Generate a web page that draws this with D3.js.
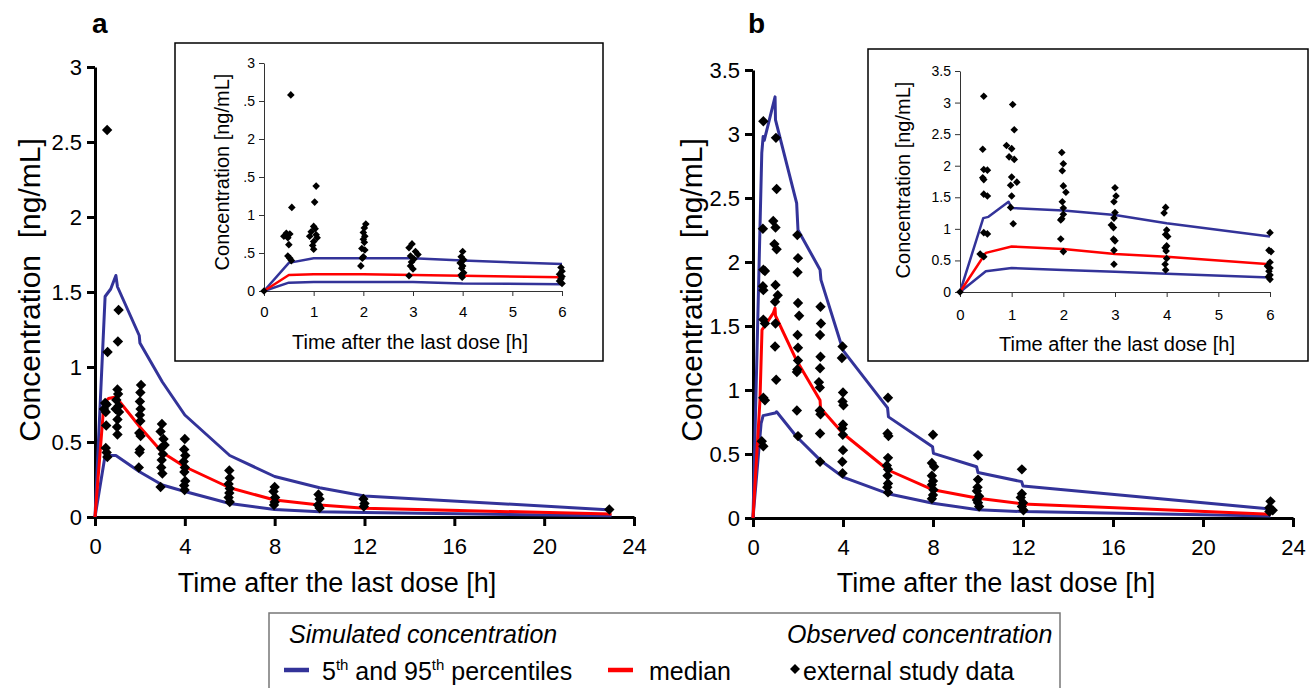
<!DOCTYPE html>
<html>
<head>
<meta charset="utf-8">
<script src="https://cdn.jsdelivr.net/npm/d3@7"></script>
<style>
body { margin: 0; background: #fff; }
svg { display: block; font-family: "Liberation Sans", Arial, sans-serif; }
</style>
</head>
<body>
<svg id="canvas"></svg>
<script>
// observed concentrations [time h, ng/mL]
const obsA = [
    [0.54, 2.58], [0.56, 1.10], [0.45, 0.76], [0.52, 0.75], [0.40, 0.72], [0.48, 0.70], [0.50, 0.61], [0.48, 0.46], [0.52, 0.43], [0.55, 0.40],
    [1.05, 1.38], [1.02, 1.17], [1.00, 0.85], [1.03, 0.82], [0.95, 0.78], [1.05, 0.74], [0.92, 0.72], [1.07, 0.70], [1.00, 0.65], [0.98, 0.60], [1.00, 0.55],
    [2.05, 0.88], [2.02, 0.83], [2.00, 0.77], [2.03, 0.72], [2.00, 0.68], [2.02, 0.64], [1.97, 0.56], [2.03, 0.54], [2.00, 0.45], [1.98, 0.43], [1.95, 0.33],
    [2.98, 0.62], [2.92, 0.57], [3.05, 0.52], [3.10, 0.48], [2.95, 0.46], [3.02, 0.42], [2.97, 0.38], [2.95, 0.33], [3.00, 0.29], [2.92, 0.20],
    [4.00, 0.52], [3.97, 0.45], [4.02, 0.41], [3.95, 0.37], [4.00, 0.33], [3.98, 0.30], [4.02, 0.24], [3.97, 0.21], [3.99, 0.18],
    [5.98, 0.31], [6.00, 0.26], [5.95, 0.22], [6.00, 0.19], [5.98, 0.16], [5.95, 0.13], [6.00, 0.10],
    [8.00, 0.20], [7.95, 0.17], [8.02, 0.13], [8.00, 0.10], [7.97, 0.08],
    [9.95, 0.15], [10.0, 0.12], [9.93, 0.08], [10.0, 0.06],
    [11.95, 0.12], [12.0, 0.09], [11.97, 0.07],
    [22.9, 0.05]
];
const obsB = [
    [0.46, 3.10], [0.44, 2.26], [0.46, 1.94], [0.53, 1.93], [0.44, 1.81], [0.46, 1.78], [0.46, 1.55], [0.53, 1.52], [0.46, 0.94], [0.53, 0.92], [0.39, 0.60], [0.46, 0.56],
    [1.02, 2.97], [1.05, 2.57], [0.90, 2.32], [1.00, 2.27], [0.95, 2.14], [1.05, 2.10], [1.00, 1.82], [1.10, 1.74], [0.98, 1.69], [1.00, 1.52], [0.98, 1.34], [1.03, 1.08],
    [1.97, 2.21], [2.00, 2.03], [1.98, 1.92], [2.00, 1.68], [2.05, 1.58], [1.98, 1.43], [2.00, 1.33], [2.00, 1.23], [1.97, 1.16], [1.95, 1.14], [1.95, 0.84], [2.00, 0.64],
    [3.00, 1.65], [3.02, 1.52], [2.98, 1.43], [3.00, 1.26], [2.98, 1.17], [2.93, 1.06], [2.97, 1.02], [2.97, 0.84], [3.00, 0.81], [2.98, 0.66], [2.98, 0.44],
    [3.98, 1.34], [3.95, 1.25], [4.00, 0.98], [3.98, 0.91], [4.02, 0.88], [4.00, 0.73], [3.97, 0.70], [3.99, 0.65], [4.00, 0.53], [3.97, 0.44], [3.98, 0.35],
    [6.00, 0.94], [5.98, 0.66], [6.02, 0.64], [6.00, 0.47], [5.95, 0.41], [6.00, 0.38], [5.98, 0.33], [6.00, 0.27], [5.97, 0.24], [6.00, 0.20],
    [8.00, 0.65], [7.95, 0.43], [8.05, 0.40], [7.95, 0.33], [8.00, 0.29], [7.95, 0.26], [8.02, 0.22], [8.00, 0.18], [7.95, 0.15],
    [10.0, 0.49], [10.0, 0.30], [9.98, 0.24], [9.95, 0.21], [10.05, 0.17], [9.95, 0.14], [10.0, 0.12], [10.05, 0.09],
    [11.95, 0.38], [11.95, 0.19], [11.9, 0.16], [12.0, 0.12], [11.95, 0.09], [12.02, 0.06],
    [23.0, 0.13], [22.95, 0.08], [23.1, 0.06], [22.95, 0.05]
];
const insetStart = [[0, 0]];

// simulated percentiles, main panels
const upperA = [[0, 0], [0.45, 1.47], [0.7, 1.52], [0.93, 1.61], [1.0, 1.535], [1.97, 1.21], [2.0, 1.16], [3, 0.90], [4, 0.68], [6, 0.41], [8, 0.27], [10, 0.195], [12, 0.14], [23, 0.047]];
const medianA = [[0, 0], [0.4, 0.76], [0.6, 0.79], [0.93, 0.80], [2, 0.60], [3, 0.43], [4, 0.335], [6, 0.195], [8, 0.113], [10, 0.08], [12, 0.058], [23, 0.02]];
const lowerA = [[0, 0], [0.45, 0.41], [0.93, 0.41], [2, 0.30], [3, 0.213], [4, 0.17], [6, 0.09], [8, 0.05], [10, 0.035], [12, 0.03], [23, 0.008]];
const upperB = [[0, 0], [0.39, 2.85], [0.45, 2.98], [0.5, 2.95], [0.98, 3.29], [1.0, 3.11], [1.94, 2.46], [2.0, 2.25], [2.98, 1.94], [3.02, 1.86], [4, 1.31], [5.98, 0.86], [6.02, 0.79], [7.98, 0.557], [8.02, 0.505], [9.94, 0.40], [10.0, 0.355], [11.94, 0.284], [12.0, 0.25], [23, 0.07]];
const medianB = [[0, 0], [0.31, 0.92], [0.4, 1.47], [0.9, 1.6], [0.98, 1.64], [1.0, 1.58], [1.94, 1.23], [2.98, 0.92], [3.0, 0.86], [4, 0.66], [6, 0.375], [8, 0.22], [10, 0.154], [12, 0.11], [23, 0.03]];
const lowerB = [[0, 0], [0.36, 0.74], [0.45, 0.80], [0.98, 0.82], [1.05, 0.83], [1.94, 0.635], [3, 0.45], [4, 0.32], [6, 0.19], [8, 0.115], [10, 0.065], [12, 0.05], [23, 0.015]];

// simulated percentiles, insets
const upperIA = [[0, 0], [0.5, 0.37], [1, 0.43], [2, 0.43], [3, 0.43], [4, 0.40], [6, 0.355]];
const medianIA = [[0, 0], [0.5, 0.21], [1, 0.22], [2, 0.22], [3, 0.21], [4, 0.20], [6, 0.18]];
const lowerIA = [[0, 0], [0.5, 0.11], [1, 0.12], [2, 0.12], [3, 0.12], [4, 0.10], [6, 0.09]];
const upperIB = [[0, 0], [0.45, 1.17], [0.55, 1.19], [0.94, 1.43], [1.0, 1.33], [2, 1.29], [3, 1.22], [4, 1.09], [6, 0.88]];
const medianIB = [[0, 0], [0.5, 0.62], [1, 0.72], [2, 0.68], [3, 0.60], [4, 0.56], [6, 0.44]];
const lowerIB = [[0, 0], [0.5, 0.33], [1, 0.38], [2, 0.35], [3, 0.32], [4, 0.29], [6, 0.23]];

// ticks
const xTicksMain = [0, 4, 8, 12, 16, 20, 24];
const yTicksA = [0, 0.5, 1, 1.5, 2, 2.5, 3];
const yLabelsA = ["0", "0.5", "1", "1.5", "2", "2.5", "3"];
const yTicksB = [0, 0.5, 1, 1.5, 2, 2.5, 3, 3.5];
const yLabelsB = ["0", "0.5", "1", "1.5", "2", "2.5", "3", "3.5"];
const xTicksInset = [0, 1, 2, 3, 4, 5, 6];
const yLabelsIA = ["0", ".5", "1", ".5", "2", ".5", "3"];

const width = 1309,
    height = 688;
const BLUE = "#333399",
    RED = "#ff0000";

const svg = d3.select("#canvas")
    .attr("width", width)
    .attr("height", height);

const diamond = d3.symbol().type(d3.symbolSquare);

function drawSeries(g, sx, sy, lines, points, lw, r) {
    const line = d3.line().x(d => sx(d[0])).y(d => sy(d[1]));
    lines.forEach(([data, color]) => {
        g.append("path")
            .attr("d", line(data))
            .attr("fill", "none")
            .attr("stroke", color)
            .attr("stroke-width", lw)
            .attr("stroke-linejoin", "round");
    });
    g.selectAll(null)
        .data(points)
        .join("path")
        .attr("d", diamond.size(2 * r * r))
        .attr("transform", d => `translate(${sx(d[0])},${sy(d[1])}) rotate(45)`)
        .attr("fill", "#000");
}

function renderMain(p) {
    const root = svg.append("g");
    const sx = d3.scaleLinear().domain([0, 24]).range(p.xRange);
    const sy = d3.scaleLinear().domain([0, p.yMax]).range(p.yRange);

    const ax = root.append("g")
        .attr("transform", `translate(0,${p.yRange[0]})`)
        .call(d3.axisBottom(sx).tickValues(xTicksMain).tickSize(9).tickSizeOuter(0).tickPadding(12));
    const ay = root.append("g")
        .attr("transform", `translate(${p.xRange[0]},0)`)
        .call(d3.axisLeft(sy).tickValues(p.yTicks).tickFormat((d, i) => p.yLabels[i]).tickSize(8).tickSizeOuter(0).tickPadding(5));
    [ax, ay].forEach(a => {
        a.selectAll("path, line").attr("stroke", "#000").attr("stroke-width", 3);
        a.selectAll("text").attr("font-size", 22).attr("fill", "#000").attr("font-family", "Liberation Sans, Arial, sans-serif");
    });

    drawSeries(root.append("g"), sx, sy,
        [[p.upper, BLUE], [p.lower, BLUE], [p.median, RED]],
        p.obs, 3, 5.2);

    root.append("text")
        .attr("x", p.xLabelX).attr("y", 592)
        .attr("text-anchor", "middle")
        .attr("font-size", 27)
        .text("Time after the last dose [h]");
    root.append("text")
        .attr("transform", `translate(${p.yLabelX},290) rotate(-90)`)
        .attr("text-anchor", "middle")
        .attr("dy", "0.35em")
        .attr("font-size", 30)
        .style("white-space", "pre")
        .text("Concentration  [ng/mL]");
    root.append("text")
        .attr("x", p.letterX).attr("y", 33)
        .attr("font-size", 28)
        .attr("font-weight", "bold")
        .text(p.letter);
}

function renderInset(p) {
    const root = svg.append("g");
    root.append("rect")
        .attr("x", p.box[0]).attr("y", p.box[1])
        .attr("width", p.box[2]).attr("height", p.box[3])
        .attr("fill", "#fff")
        .attr("stroke", "#000")
        .attr("stroke-width", 1.5);

    const sx = d3.scaleLinear().domain([0, 6]).range(p.xRange);
    const sy = d3.scaleLinear().domain([0, p.yMax]).range(p.yRange);

    const ax = root.append("g")
        .attr("transform", `translate(0,${p.yRange[0]})`)
        .call(d3.axisBottom(sx).tickValues(xTicksInset).tickFormat(d3.format("d")).tickSize(5).tickSizeOuter(0).tickPadding(p.xPad));
    const ay = root.append("g")
        .attr("transform", `translate(${p.xRange[0]},0)`)
        .call(d3.axisLeft(sy).tickValues(p.yTicks).tickFormat((d, i) => p.yLabels[i]).tickSize(5).tickSizeOuter(0).tickPadding(4));
    [ax, ay].forEach(a => {
        a.selectAll("path, line").attr("stroke", "#333").attr("stroke-width", 1);
        a.selectAll("text").attr("fill", "#000").attr("font-family", "Liberation Sans, Arial, sans-serif");
    });
    ax.selectAll("text").attr("font-size", 15);
    ay.selectAll("text").attr("font-size", 14);

    drawSeries(root.append("g"), sx, sy,
        [[p.upper, BLUE], [p.lower, BLUE], [p.median, RED]],
        insetStart.concat(p.obs.filter(d => d[0] <= 6.2)), 2.5, 3.8);

    root.append("text")
        .attr("x", p.xLabelX).attr("y", p.xLabelY)
        .attr("text-anchor", "middle")
        .attr("font-size", 20)
        .text("Time after the last dose [h]");
    root.append("text")
        .attr("transform", `translate(${p.yLabel[0]},${p.yLabel[1]}) rotate(-90)`)
        .attr("text-anchor", "middle")
        .attr("dy", "0.35em")
        .attr("font-size", 20)
        .text("Concentration [ng/mL]");
}

renderMain({
    letter: "a", letterX: 92, xRange: [95, 634], yRange: [517, 67], yMax: 3,
    yTicks: yTicksA, yLabels: yLabelsA, obs: obsA, upper: upperA, median: medianA, lower: lowerA,
    xLabelX: 337, yLabelX: 29
});
renderMain({
    letter: "b", letterX: 748, xRange: [753, 1293], yRange: [518, 70], yMax: 3.5,
    yTicks: yTicksB, yLabels: yLabelsB, obs: obsB, upper: upperB, median: medianB, lower: lowerB,
    xLabelX: 996, yLabelX: 691
});
renderInset({
    box: [175, 43, 428, 318], xRange: [264, 562], yRange: [291, 63], yMax: 3,
    yTicks: yTicksA, yLabels: yLabelsIA, obs: obsA, upper: upperIA, median: medianIA, lower: lowerIA,
    xPad: 10, xLabelX: 410, xLabelY: 349, yLabel: [222, 172]
});
renderInset({
    box: [868, 49, 440, 312], xRange: [960, 1270], yRange: [292, 71], yMax: 3.5,
    yTicks: yTicksB, yLabels: yLabelsB, obs: obsB, upper: upperIB, median: medianIB, lower: lowerIB,
    xPad: 12, xLabelX: 1117, xLabelY: 351, yLabel: [903, 180]
});

// legend
const legend = svg.append("g").attr("font-size", 25);
legend.append("rect")
    .attr("x", 269).attr("y", 613)
    .attr("width", 791).attr("height", 90)
    .attr("fill", "#fff")
    .attr("stroke", "#777")
    .attr("stroke-width", 1.5);
legend.append("text").attr("x", 289).attr("y", 643).attr("font-style", "italic").text("Simulated concentration");
legend.append("text").attr("x", 787).attr("y", 643).attr("font-style", "italic").text("Observed concentration");
legend.append("line").attr("x1", 284).attr("x2", 309).attr("y1", 670).attr("y2", 670).attr("stroke", BLUE).attr("stroke-width", 4.5);
legend.append("line").attr("x1", 608).attr("x2", 633).attr("y1", 670).attr("y2", 670).attr("stroke", RED).attr("stroke-width", 4.5);
const pct = legend.append("text").attr("x", 322).attr("y", 680);
pct.append("tspan").text("5");
pct.append("tspan").attr("font-size", 15).attr("dy", -10).text("th");
pct.append("tspan").attr("dy", 10).text(" and 95");
pct.append("tspan").attr("font-size", 15).attr("dy", -10).text("th");
pct.append("tspan").attr("dy", 10).text(" percentiles");
legend.append("text").attr("x", 649).attr("y", 680).text("median");
legend.append("path")
    .attr("d", diamond.size(2 * 5 * 5))
    .attr("transform", "translate(795,669) rotate(45)")
    .attr("fill", "#000");
legend.append("text").attr("x", 803).attr("y", 680).text("external study data");
</script>
</body>
</html>
